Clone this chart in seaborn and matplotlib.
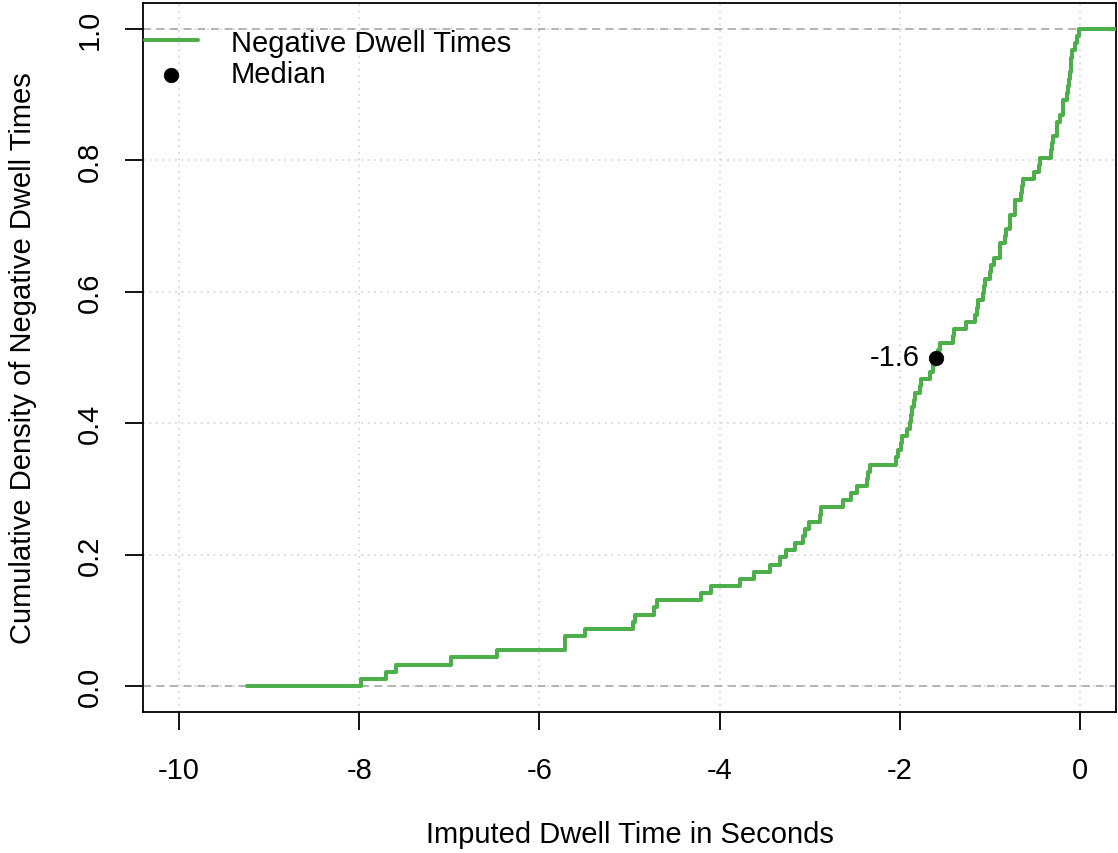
import numpy as np
import pandas as pd
import matplotlib
matplotlib.use("Agg")
import matplotlib.pyplot as plt
import seaborn as sns

dwell_times = [
    -7.98, -7.70, -7.59, -6.98, -6.47, -5.72, -5.72, -5.49, -4.96, -4.94,
    -4.73, -4.69, -4.21, -4.10, -3.77, -3.62, -3.44, -3.33, -3.26, -3.16,
    -3.07, -3.05, -3.01, -2.88, -2.87, -2.63, -2.54, -2.47, -2.36, -2.35,
    -2.33, -2.04, -2.02, -1.99, -1.97, -1.92, -1.89, -1.88, -1.86, -1.84,
    -1.83, -1.78, -1.76, -1.665, -1.63, -1.61, -1.58, -1.556, -1.41, -1.40,
    -1.26, -1.17, -1.14, -1.13, -1.08, -1.06, -1.055, -1.00, -0.99, -0.95,
    -0.89, -0.888, -0.83, -0.826, -0.78, -0.777, -0.72, -0.72, -0.66, -0.64,
    -0.63, -0.51, -0.45, -0.444, -0.32, -0.31, -0.30, -0.26, -0.255, -0.22,
    -0.19, -0.19, -0.14, -0.13, -0.12, -0.11, -0.10, -0.095, -0.09, -0.055,
    -0.03, -0.008,
]
line_start = -9.25          # where the ECDF's flat zero part begins
xlim_range = [-10, 0]
x_ticks = [-10, -8, -6, -4, -2, 0]
y_ticks = [0.0, 0.2, 0.4, 0.6, 0.8, 1.0]
series_label = "Negative Dwell Times"
median_label = "Median"
x_title = "Imputed Dwell Time in Seconds"
y_title = "Cumulative Density of Negative Dwell Times"

GREEN = "#4DAF4A"
FS = 21

sns.set_theme(style="white")
plt.rcParams["font.family"] = ["Liberation Sans", "DejaVu Sans"]
plt.rcParams["text.color"] = "black"
plt.rcParams["axes.labelcolor"] = "black"
plt.rcParams["xtick.color"] = "black"
plt.rcParams["ytick.color"] = "black"

W, H = 1118, 854
fig = plt.figure(figsize=(W / 100, H / 100), dpi=100)
ax_left, ax_right, ax_top, ax_bot = 143, 1116, 3.7, 713.3
ax = fig.add_axes([ax_left / W, 1 - ax_bot / H,
                   (ax_right - ax_left) / W, (ax_bot - ax_top) / H])

# R-style 4% padding
pad = 0.04 * (xlim_range[1] - xlim_range[0])
xlo, xhi = xlim_range[0] - pad, xlim_range[1] + pad
ax.set_xlim(xlo, xhi)
ax.set_ylim(-0.04, 1.04)

# grid (dotted light grey)
for xv in x_ticks:
    ax.axvline(xv, color="#D3D3D3", ls=(0, (1.2, 3)), lw=1.1, zorder=0)
for yv in y_ticks:
    ax.axhline(yv, color="#D3D3D3", ls=(0, (1.2, 3)), lw=1.1, zorder=0)
# dashed reference lines at 0 and 1
ax.axhline(0, color="#B3B3B3", ls=(0, (4, 3)), lw=1.4, zorder=1)
ax.axhline(1, color="#B3B3B3", ls=(0, (4, 3)), lw=1.4, zorder=1)

# ECDF
vals = np.sort(np.asarray(dwell_times, dtype=float))
n = len(vals)
ex = np.r_[line_start, vals, xhi]
ey = np.r_[0.0, np.arange(1, n + 1) / n, 1.0]
df = pd.DataFrame({"x": ex, "y": ey})
sns.lineplot(data=df, x="x", y="y", estimator=None, sort=False,
             drawstyle="steps-post", color=GREEN, lw=2.9, ax=ax,
             label=series_label, zorder=3)

# median point
med = float(np.median(vals))
sns.scatterplot(x=[med], y=[0.5], color="black", s=110, ax=ax, zorder=4,
                label=median_label, edgecolor="black", linewidth=0.5)
ax.annotate(f"{med:.1f}", xy=(med, 0.5), xytext=(-12, 0),
            textcoords="offset points", ha="right", va="center",
            fontsize=FS, color="black")

# axes styling
for s in ax.spines.values():
    s.set_visible(True)
    s.set_color("black")
    s.set_linewidth(1.3)
ax.set_xticks(x_ticks)
ax.set_xticklabels([f"{t:d}" for t in x_ticks])
ax.set_yticks(y_ticks)
ax.set_yticklabels([f"{t:.1f}" for t in y_ticks], rotation=90, va="center")
ax.tick_params(axis="x", which="major", direction="out", length=13,
               width=1.3, labelsize=FS, pad=18.5, bottom=True)
ax.tick_params(axis="y", which="major", direction="out", length=13,
               width=1.3, labelsize=FS, pad=15.5, left=True)
ax.set_xlabel(x_title, fontsize=FS, labelpad=26)
ax.set_ylabel(y_title, fontsize=FS, labelpad=28)

hp = (ax_bot - ax_top)
leg = ax.legend(loc="upper left",
                bbox_to_anchor=(2 / (ax_right - ax_left), 1 - 26 / hp),
                frameon=False, fontsize=FS, handlelength=1.8,
                handletextpad=1.15, borderaxespad=0.0, borderpad=0.0,
                labelspacing=0.12)

fig.savefig("out.png", dpi=100)
